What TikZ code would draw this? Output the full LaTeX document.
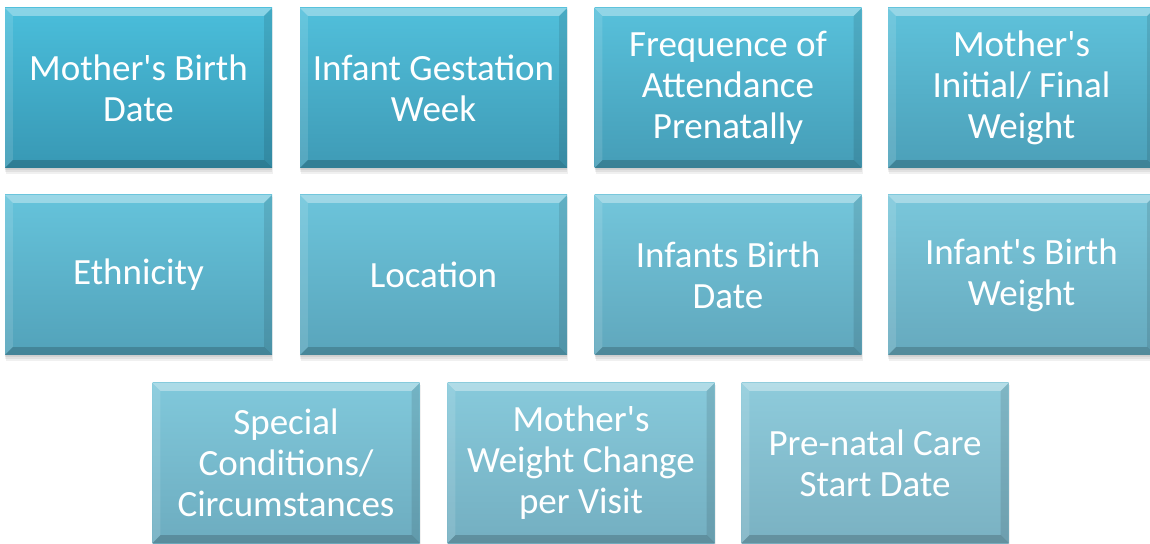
\documentclass[tikz,border=0pt]{standalone}
\usepackage{fontspec}
\setmainfont{Carlito}[Ligatures=TeXOff]
\usetikzlibrary{shadows}
\definecolor{Tone}{RGB}{74,190,219}
\definecolor{Ttwo}{RGB}{142,203,219}
\definecolor{Bone}{RGB}{56,152,180}
\definecolor{Btwo}{RGB}{122,177,194}
\tikzset{
 x=1pt, y=1pt,
 cell/.style={minimum width=267pt, minimum height=160pt, inner sep=0pt, align=center,
   text=white, font=\fontsize{37}{41}\selectfont},
 softshadow/.style={fill=black, opacity=0.06},
 hilite/.style={fill=white, opacity=0.35},
 sidelite/.style={fill=white, opacity=0.12},
 sidedark/.style={fill=black, opacity=0.10},
 botdark/.style={fill=black, opacity=0.18}
}
\newcommand\cellbox[5]{%
 \fill[softshadow] (#2-133.5+1,#3-80-6) rectangle (#2+133.5+1,#3+80-2);
 \fill[softshadow] (#2-133.5,#3-80-4) rectangle (#2+133.5,#3+80-2);
 \fill[softshadow] (#2-133.5,#3-80-2) rectangle (#2+133.5,#3+80-2);
 \node[cell, top color=Tone!#4!Ttwo, bottom color=Bone!#4!Btwo] (#1) at (#2,#3) {#5};
 \fill[hilite] (#1.north west) -- (#1.north east) -- ([shift={(-8,-8)}]#1.north east) -- ([shift={(8,-8)}]#1.north west) -- cycle;
 \fill[sidelite] (#1.north west) -- ([shift={(8,-8)}]#1.north west) -- ([shift={(8,8)}]#1.south west) -- (#1.south west) -- cycle;
 \fill[sidedark] (#1.north east) -- (#1.south east) -- ([shift={(-8,8)}]#1.south east) -- ([shift={(-8,-8)}]#1.north east) -- cycle;
 \fill[botdark] (#1.south west) -- ([shift={(8,8)}]#1.south west) -- ([shift={(-8,8)}]#1.south east) -- (#1.south east) -- cycle;
}
\begin{document}
\begin{tikzpicture}
\useasboundingbox (0,0) rectangle (1150,543);
\fill[white] (0,0) rectangle (1150,543);
\clip (0,0) rectangle (1150,543);
\cellbox{b1}{138.5}{455}{100}{Mother's Birth\\Date}
\cellbox{b2}{433.5}{455}{90}{Infant Gestation\\Week}
\cellbox{b3}{728}{455}{80}{Frequence of\\Attendance\\Prenatally}
\cellbox{b4}{1021.5}{455}{70}{Mother's\\Initial/ Final\\Weight}
\cellbox{b5}{138.5}{268}{60}{Ethnicity}
\cellbox{b6}{433.5}{268}{50}{Location}
\cellbox{b7}{728}{268}{40}{Infants Birth\\Date}
\cellbox{b8}{1021.5}{268}{30}{Infant's Birth\\Weight}
\cellbox{b9}{286}{80}{20}{Special\\Conditions/\\Circumstances}
\cellbox{b10}{581}{80}{10}{Mother's\\Weight Change\\per Visit}
\cellbox{b11}{875}{80}{0}{Pre-natal Care\\Start Date}
\end{tikzpicture}
\end{document}
